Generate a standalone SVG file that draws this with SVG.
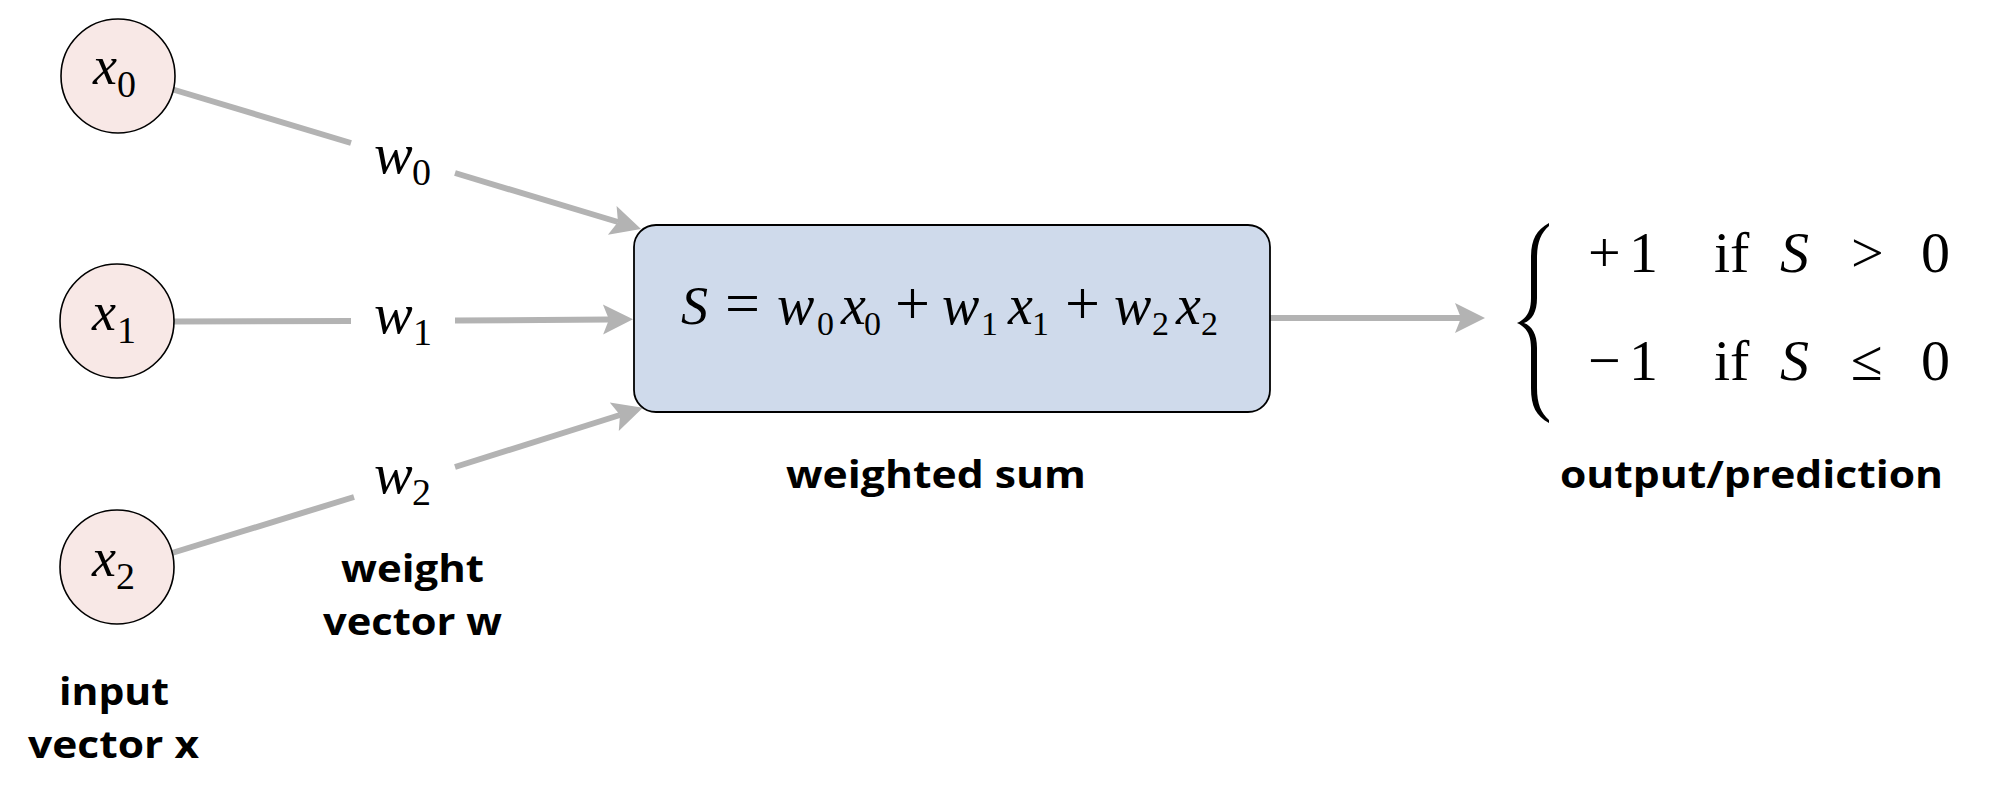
<svg xmlns="http://www.w3.org/2000/svg" width="1999" height="804" viewBox="0 0 1999 804">
<style>
.bg{fill:#ffffff}
.node{fill:#f8e8e6;stroke:#000;stroke-width:1.6}
.box{fill:#cfdaeb;stroke:#000;stroke-width:1.8}
.edge{fill:none;stroke:#b3b3b3;stroke-width:6}
.m{font-family:"Liberation Serif","Times New Roman",serif;fill:#000}
.it{font-style:italic}
.lbl{font-family:"Open Sans","Noto Sans",sans-serif;font-weight:700;font-size:38px;fill:#000}
</style>
<defs>
<marker id="ah" viewBox="-10 -20 40 40" markerWidth="40" markerHeight="40" refX="0" refY="0" orient="auto" markerUnits="userSpaceOnUse" overflow="visible">
<path d="M24,0 L-6,-15 L0,0 L-6,15 Z" fill="#b3b3b3"/>
</marker>
</defs>
<rect class="bg" x="0" y="0" width="1999" height="804"/>

<g id="connectors">
<line class="edge" x1="173" y1="89.5" x2="351" y2="143"/>
<line class="edge" x1="455" y1="173" x2="618" y2="222" marker-end="url(#ah)"/>
<line class="edge" x1="173" y1="321.5" x2="351" y2="321"/>
<line class="edge" x1="455" y1="320.5" x2="609" y2="319.5" marker-end="url(#ah)"/>
<line class="edge" x1="172" y1="553" x2="354" y2="497"/>
<line class="edge" x1="455" y1="467" x2="620" y2="415" marker-end="url(#ah)"/>
<line class="edge" x1="1270" y1="318" x2="1461" y2="318" marker-end="url(#ah)"/>
</g>

<g id="weights">
<text class="m" font-size="58" y="173"><tspan class="it" x="374">w</tspan><tspan x="412" y="185" font-size="38">0</tspan></text>
<text class="m" font-size="58" y="333"><tspan class="it" x="374">w</tspan><tspan x="413" y="345" font-size="38">1</tspan></text>
<text class="m" font-size="58" y="493"><tspan class="it" x="374">w</tspan><tspan x="412" y="505" font-size="38">2</tspan></text>
</g>

<g id="x0">
<circle class="node" cx="118" cy="76" r="57"/>
<text class="m" font-size="54" y="84"><tspan class="it" x="93">x</tspan><tspan x="117" y="97" font-size="38">0</tspan></text>
</g>
<g id="x1">
<circle class="node" cx="117" cy="321" r="57"/>
<text class="m" font-size="54" y="330"><tspan class="it" x="92">x</tspan><tspan x="117" y="343" font-size="38">1</tspan></text>
</g>
<g id="x2">
<circle class="node" cx="117" cy="567" r="57"/>
<text class="m" font-size="54" y="576"><tspan class="it" x="92">x</tspan><tspan x="116" y="589" font-size="38">2</tspan></text>
</g>

<g id="sum">
<rect class="box" x="634" y="225" width="636" height="187" rx="22" ry="22"/>
<text class="m" font-size="56" y="324"><tspan class="it" x="681" font-size="54">S</tspan><tspan x="725" font-size="62">=</tspan><tspan class="it" x="777">w</tspan><tspan x="817" y="335" font-size="34">0</tspan><tspan class="it" x="841" y="324">x</tspan><tspan x="864" y="335" font-size="34">0</tspan><tspan x="895" y="324" font-size="62">+</tspan><tspan class="it" x="942">w</tspan><tspan x="981" y="335" font-size="34">1</tspan><tspan class="it" x="1008" y="324">x</tspan><tspan x="1032" y="335" font-size="34">1</tspan><tspan x="1065" y="324" font-size="62">+</tspan><tspan class="it" x="1114">w</tspan><tspan x="1152" y="335" font-size="34">2</tspan><tspan class="it" x="1176" y="324">x</tspan><tspan x="1201" y="335" font-size="34">2</tspan></text>
</g>

<g id="output">
<path d="M1549,223 C1536,230 1531,240 1531,258 L1531,298 C1531,312 1526,319 1517,323 C1526,327 1531,334 1531,348 L1531,388 C1531,406 1536,416 1549,423 L1549,420 C1541,413 1537,404 1537,388 L1537,348 C1537,334 1532,326 1524,323 C1532,320 1537,312 1537,298 L1537,258 C1537,242 1541,233 1549,226 Z" fill="#000"/>
<text class="m" font-size="58" y="272"><tspan x="1588">+</tspan><tspan x="1629">1</tspan><tspan x="1714">if</tspan><tspan class="it" x="1780">S</tspan><tspan x="1851">&gt;</tspan><tspan x="1921">0</tspan></text>
<text class="m" font-size="58" y="380"><tspan x="1588">−</tspan><tspan x="1629">1</tspan><tspan x="1714">if</tspan><tspan class="it" x="1780">S</tspan><tspan x="1851">≤</tspan><tspan x="1921">0</tspan></text>
</g>

<g id="labels">
<text class="lbl" x="786" y="488" textLength="300" lengthAdjust="spacingAndGlyphs">weighted sum</text>
<text class="lbl" x="1560" y="488" textLength="383" lengthAdjust="spacingAndGlyphs">output/prediction</text>
<text class="lbl" x="341" y="582" textLength="143" lengthAdjust="spacingAndGlyphs">weight</text>
<text class="lbl" x="323" y="635" textLength="179" lengthAdjust="spacingAndGlyphs">vector w</text>
<text class="lbl" x="59" y="705" textLength="110" lengthAdjust="spacingAndGlyphs">input</text>
<text class="lbl" x="28" y="758" textLength="171" lengthAdjust="spacingAndGlyphs">vector x</text>
</g>
</svg>
